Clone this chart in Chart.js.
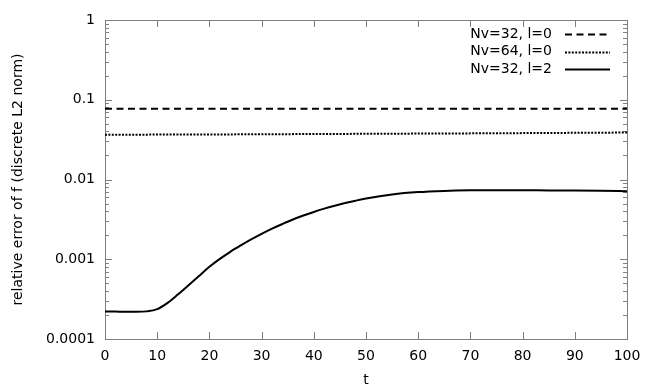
<!DOCTYPE html>
<html>
<head>
<meta charset="utf-8">
<script src="https://cdn.jsdelivr.net/npm/chart.js@4"></script>
<style>
html, body { margin: 0; padding: 0; background: #fff; }
#wrap { width: 654px; height: 392px; }
</style>
</head>
<body>
<div id="wrap"><canvas id="errChart"></canvas></div>
<script>
// values
const tCurve = [0, 2, 4, 6, 8, 10, 12, 14, 16, 18, 20, 22, 24, 26, 28, 30, 32, 34, 36, 38, 40,
    42, 44, 46, 48, 50, 55, 60, 65, 70, 75, 80, 85, 90, 95, 100];
const errNv32l2 = [0.000222, 0.000221, 0.000219, 0.000219, 0.000222, 0.000237, 0.000284, 0.000363,
    0.000472, 0.000617, 0.000804, 0.00101, 0.00124, 0.00149, 0.00177, 0.00208, 0.00242, 0.00277,
    0.00315, 0.00353, 0.00392, 0.00431, 0.00469, 0.00507, 0.00543, 0.00578, 0.00649, 0.00695,
    0.00719, 0.00731, 0.00735, 0.00733, 0.00729, 0.00726, 0.00721, 0.00713];

const tFlat = [0, 25, 50, 75, 100];
const errNv32l0 = [0.077, 0.077, 0.077, 0.077, 0.077];
const errNv64l0 = [0.0364, 0.0368, 0.0374, 0.0380, 0.0388];

const seriesLabels = ['Nv=32, l=0', 'Nv=64, l=0', 'Nv=32, l=2'];
const xTicks = [0, 10, 20, 30, 40, 50, 60, 70, 80, 90, 100];
const yTicks = [0.0001, 0.001, 0.01, 0.1, 1];
const yTickLabels = ['0.0001', '0.001', '0.01', '0.1', '1'];

const toPoints = (xs, ys) => xs.map((x, i) => ({ x: x, y: ys[i] }));

Chart.defaults.font.family = "'DejaVu Sans', sans-serif";
Chart.defaults.font.size = 14;
Chart.defaults.color = '#000';

// gnuplot style frame: full box, inward ticks on all four sides
const gnuplotFrame = {
    id: 'gnuplotFrame',
    beforeDatasetsDraw(chart) {
        const { ctx, chartArea: a, scales: { x, y } } = chart;
        ctx.save();
        ctx.strokeStyle = '#808080';
        ctx.lineWidth = 1;
        ctx.beginPath();
        xTicks.forEach(v => {
            const px = Math.round(x.getPixelForValue(v)) + 0.5;
            ctx.moveTo(px, a.bottom); ctx.lineTo(px, a.bottom - 7);
            ctx.moveTo(px, a.top); ctx.lineTo(px, a.top + 7);
        });
        yTicks.forEach((v, i) => {
            const py = Math.round(y.getPixelForValue(v)) + 0.5;
            ctx.moveTo(a.left, py); ctx.lineTo(a.left + 7, py);
            ctx.moveTo(a.right, py); ctx.lineTo(a.right - 7, py);
            if (i < yTicks.length - 1) {
                for (let k = 2; k <= 9; k++) {
                    const pm = Math.round(y.getPixelForValue(v * k)) + 0.5;
                    ctx.moveTo(a.left, pm); ctx.lineTo(a.left + 4, pm);
                    ctx.moveTo(a.right, pm); ctx.lineTo(a.right - 4, pm);
                }
            }
        });
        ctx.stroke();
        ctx.strokeRect(Math.round(a.left) + 0.5, Math.round(a.top) + 0.5,
            Math.round(a.right - a.left), Math.round(a.bottom - a.top));
        ctx.restore();
    },
    afterDraw(chart) {
        // legend: text right-aligned, line sample on its right
        const { ctx, chartArea: a } = chart;
        ctx.save();
        ctx.font = "14px 'DejaVu Sans', sans-serif";
        ctx.fillStyle = '#000';
        ctx.textAlign = 'right';
        ctx.textBaseline = 'middle';
        chart.data.datasets.forEach((ds, i) => {
            const yy = a.top + 14 + i * 17.5;
            ctx.fillText(ds.label, a.right - 75, yy);
            ctx.strokeStyle = ds.borderColor;
            ctx.lineWidth = ds.borderWidth;
            ctx.setLineDash(ds.borderDash || []);
            ctx.beginPath();
            ctx.moveTo(a.right - 62, Math.round(yy) + 0.5);
            ctx.lineTo(a.right - 17, Math.round(yy) + 0.5);
            ctx.stroke();
        });
        ctx.restore();
    }
};

new Chart(document.getElementById('errChart'), {
    type: 'line',
    data: {
        datasets: [{
            label: seriesLabels[0],
            data: toPoints(tFlat, errNv32l0),
            borderColor: '#000',
            borderWidth: 2,
            borderDash: [7, 4.5],
            pointRadius: 0
        }, {
            label: seriesLabels[1],
            data: toPoints(tFlat, errNv64l0),
            borderColor: '#000',
            borderWidth: 2,
            borderDash: [2, 1.4],
            pointRadius: 0
        }, {
            label: seriesLabels[2],
            data: toPoints(tCurve, errNv32l2),
            borderColor: '#000',
            borderWidth: 2,
            cubicInterpolationMode: 'monotone',
            pointRadius: 0
        }]
    },
    options: {
        responsive: true,
        maintainAspectRatio: false,
        animation: false,
        layout: { padding: { top: 20, right: 27, left: 0, bottom: 0 } },
        plugins: { legend: { display: false }, tooltip: { enabled: false } },
        scales: {
            x: {
                type: 'linear',
                min: 0,
                max: 100,
                grid: { display: false, drawTicks: false },
                border: { display: false },
                afterBuildTicks: s => { s.ticks = xTicks.map(v => ({ value: v })); },
                afterFit: s => { s.height = 53; },
                ticks: { padding: 9, maxRotation: 0 },
                title: { display: true, text: 't', padding: { top: 0, bottom: 3 } }
            },
            y: {
                type: 'logarithmic',
                min: 0.0001,
                max: 1,
                grid: { display: false, drawTicks: false },
                border: { display: false },
                afterBuildTicks: s => { s.ticks = yTicks.map(v => ({ value: v })); },
                afterFit: s => { s.width = 105; },
                ticks: {
                    padding: 10,
                    callback: v => yTickLabels[yTicks.indexOf(v)]
                },
                title: {
                    display: true,
                    text: 'relative error of f (discrete L2 norm)',
                    padding: { top: 10, bottom: 0 }
                }
            }
        }
    },
    plugins: [gnuplotFrame]
});
</script>
</body>
</html>
